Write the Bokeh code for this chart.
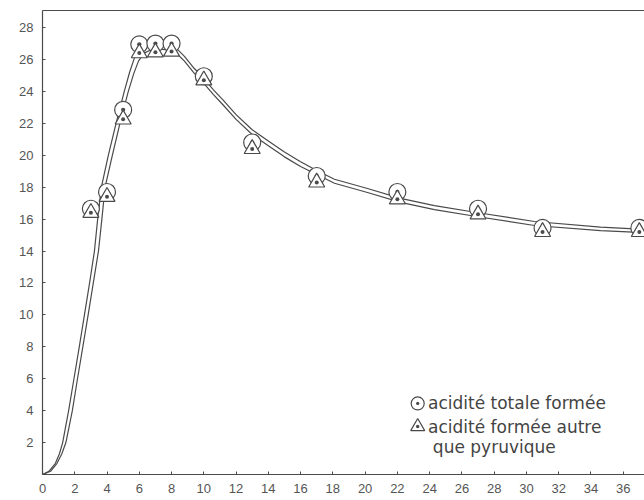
from bokeh.plotting import figure
from bokeh.models import Range1d, FixedTicker, LinearAxis, Label
from bokeh.embed import file_html
from bokeh.resources import INLINE

# measured points (hours vs acidity)
times = [3, 4, 5, 6, 7, 8, 10, 13, 17, 22, 27, 31, 37]
acid_total = [16.65, 17.7, 22.85, 26.95, 27.0, 27.0, 24.95, 20.8, 18.7, 17.7, 16.65, 15.45, 15.45]
acid_other = [16.4, 17.4, 22.25, 26.4, 26.45, 26.5, 24.7, 20.4, 18.3, 17.25, 16.3, 15.2, 15.2]

# hand-drawn curves
curve_total_x = [0, 0.4, 0.8, 1.05, 1.25, 1.62, 1.95, 2.28, 2.6, 2.92, 3.22, 3.42, 3.65, 4.08,
                 4.56, 5.07, 5.4, 5.7, 6.1, 6.6, 7.2, 7.9, 8.4, 8.8, 9.4, 10.0, 10.6, 11.2,
                 12.0, 13.0, 14.0, 15.0, 16.0, 17.0, 18.1, 20.2, 22.2, 24.3, 27.0, 30.5, 34.6, 37.5]
curve_total_y = [0, 0.2, 0.7, 1.3, 2.0, 4.0, 6.0, 8.0, 10.0, 12.0, 14.0, 16.0, 18.0, 20.0,
                 22.0, 24.0, 25.2, 26.1, 26.7, 26.95, 27.0, 26.9, 26.6, 26.2, 25.45, 24.8, 24.1, 23.45,
                 22.55, 21.6, 20.9, 20.2, 19.6, 19.05, 18.5, 17.9, 17.3, 16.85, 16.4, 15.85, 15.5, 15.35]
curve_other_x = [0, 0.5, 0.9, 1.2, 1.45, 1.85, 2.17, 2.5, 2.83, 3.15, 3.47, 3.68, 3.88, 4.33,
                 4.8, 5.32, 5.65, 5.95, 6.3, 6.7, 7.2, 7.9, 8.4, 8.8, 9.4, 10.0, 10.6, 11.2,
                 12.0, 13.0, 14.0, 15.0, 16.0, 17.0, 18.1, 20.2, 22.2, 24.3, 27.0, 30.5, 34.6, 37.5]
curve_other_y = [0, 0.2, 0.7, 1.3, 2.0, 4.0, 6.0, 8.0, 10.0, 12.0, 14.0, 16.0, 18.0, 20.0,
                 22.0, 24.0, 25.1, 25.9, 26.4, 26.6, 26.65, 26.6, 26.3, 25.9, 25.15, 24.5, 23.8, 23.15,
                 22.25, 21.3, 20.6, 19.9, 19.3, 18.8, 18.25, 17.65, 17.05, 16.6, 16.15, 15.6, 15.28, 15.15]

x_ticks = list(range(0, 37, 2))
y_ticks = list(range(2, 29, 2))

legend_texts = ["acidité totale formée", "acidité formée autre", "que pyruvique"]

INK = "#4a4a4a"

p = figure(frame_width=602, frame_height=464, output_backend="svg", toolbar_location=None,
           x_range=Range1d(0, 37.32), y_range=Range1d(0, 29.07),
           min_border_left=42, min_border_right=0, min_border_top=10, min_border_bottom=26,
           background_fill_color="white", border_fill_color="white")
p.outline_line_color = None
p.xgrid.visible = False
p.ygrid.visible = False

for ax, ticks in ((p.xaxis[0], x_ticks), (p.yaxis[0], y_ticks)):
    ax.ticker = FixedTicker(ticks=ticks)
    ax.axis_line_color = INK
    ax.axis_line_width = 1.2
    ax.major_tick_line_color = INK
    ax.major_tick_in = 3
    ax.major_tick_out = 0
    ax.minor_tick_line_color = None
    ax.major_label_text_font = "Liberation Sans"
    ax.major_label_text_font_size = "13px"
    ax.major_label_text_color = "#555555"
p.xaxis[0].major_label_standoff = 9
p.yaxis[0].major_label_standoff = 9

top = LinearAxis(ticker=FixedTicker(ticks=[]), axis_line_color=INK, axis_line_width=1.2,
                 major_tick_in=0, major_tick_out=0, minor_tick_in=0, minor_tick_out=0,
                 major_tick_line_color=None, minor_tick_line_color=None)
p.add_layout(top, "above")

p.line(curve_total_x, curve_total_y, line_color=INK, line_width=1.2)
p.line(curve_other_x, curve_other_y, line_color=INK, line_width=1.2)

p.scatter(times, acid_total, marker="circle_dot", size=17, line_color=INK, line_width=1.2,
          fill_color="white")
p.scatter(times, acid_other, marker="triangle_dot", size=16, line_color=INK, line_width=1.2,
          fill_color="white")

# legend (annotation placed in data units)
lx, ltx = 23.26, 23.9
ly = [4.45, 2.95, 1.75]
p.scatter([lx], [ly[0]], marker="circle_dot", size=13, line_color=INK, line_width=1.2, fill_color="white")
p.scatter([lx], [ly[1] + 0.05], marker="triangle_dot", size=14, line_color=INK, line_width=1.2, fill_color="white")
for i, t in enumerate(legend_texts):
    p.add_layout(Label(x=ltx + (0.3 if i == 2 else 0), y=ly[i], text=t, text_baseline="middle",
                       text_font="DejaVu Sans", text_font_size="17px", text_color="#444444"))

open("out.html", "w").write(file_html(p, INLINE))
